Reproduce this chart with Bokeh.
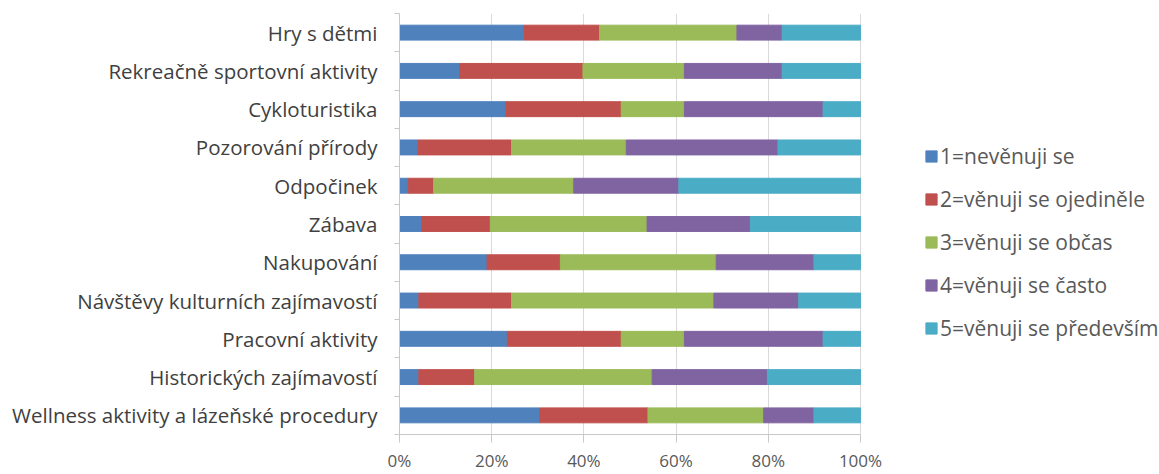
from bokeh.plotting import figure
from bokeh.models import ColumnDataSource, FixedTicker, PrintfTickFormatter, Range1d, Legend, LegendItem
from bokeh.embed import file_html
from bokeh.resources import INLINE

categories = [
    "Hry s dětmi",
    "Rekreačně sportovní aktivity",
    "Cykloturistika",
    "Pozorování přírody",
    "Odpočinek",
    "Zábava",
    "Nakupování",
    "Návštěvy kulturních zajímavostí",
    "Pracovní aktivity",
    "Historických zajímavostí",
    "Wellness aktivity a lázeňské procedury",
]
series_names = [
    "1=nevěnuji se",
    "2=věnuji se ojediněle",
    "3=věnuji se občas",
    "4=věnuji se často",
    "5=věnuji se především",
]
s1 = [27.1, 13.1, 23.1, 4.0, 1.9, 4.8, 19.0, 4.2, 23.4, 4.2, 30.4]
s2 = [16.3, 26.7, 25.0, 20.3, 5.5, 14.9, 15.9, 20.1, 24.7, 12.1, 23.5]
s3 = [29.8, 22.0, 13.7, 24.9, 30.4, 34.0, 33.8, 43.9, 13.7, 38.5, 25.1]
s4 = [9.8, 21.2, 30.1, 32.9, 22.8, 22.4, 21.2, 18.4, 30.1, 25.0, 10.9]
s5 = [17.0, 17.0, 8.1, 17.9, 39.4, 23.9, 10.1, 13.4, 8.1, 20.2, 10.1]
x_ticks = [0, 20, 40, 60, 80, 100]

colors = ["#4F81BD", "#C0504D", "#9BBB59", "#8064A2", "#4BACC6"]
FONT = "Open Sans"

n = len(categories)
ypos = [n - 1 - i for i in range(n)]
keys = ["s1", "s2", "s3", "s4", "s5"]
source = ColumnDataSource(dict(y=ypos, s1=s1, s2=s2, s3=s3, s4=s4, s5=s5))

# plot frame spans the legend area too; bars occupy the first 461 px (0..100 %)
W, H = 1159, 474
LEFT = 399
FRAME_W = W - LEFT
BAR_W = 461
p = figure(
    width=W, height=H,
    x_range=Range1d(0, 100 * FRAME_W / BAR_W), y_range=Range1d(-0.5, n - 0.5),
    output_backend="svg", toolbar_location=None,
    min_border_left=LEFT, min_border_right=0,
    min_border_top=13, min_border_bottom=38,
)
p.outline_line_color = None

renderers = p.hbar_stack(keys, y="y", height=0.39, color=colors, source=source)

# x axis
p.xaxis.bounds = (0, 100)
p.xaxis.ticker = FixedTicker(ticks=x_ticks)
p.xaxis.formatter = PrintfTickFormatter(format="%d%%")
p.xaxis.axis_line_color = "#c8c8c8"
p.xaxis.major_tick_line_color = "#c8c8c8"
p.xaxis.major_tick_out = 8
p.xaxis.major_tick_in = 0
p.xaxis.minor_tick_line_color = None
p.xaxis.major_label_standoff = 6
p.xaxis.major_label_text_font = FONT
p.xaxis.major_label_text_font_size = "17px"
p.xaxis.major_label_text_color = "#595959"

# y axis
p.yaxis.ticker = FixedTicker(ticks=ypos, minor_ticks=[k - 0.5 for k in range(n + 1)])
p.yaxis.major_label_overrides = {float(yv): c for yv, c in zip(ypos, categories)}
p.yaxis.axis_line_color = "#c8c8c8"
p.yaxis.major_tick_line_color = None
p.yaxis.major_tick_out = 0
p.yaxis.major_tick_in = 0
p.yaxis.minor_tick_line_color = "#c8c8c8"
p.yaxis.minor_tick_out = 5
p.yaxis.minor_tick_in = 0
p.yaxis.major_label_standoff = 17
p.yaxis.major_label_text_font = FONT
p.yaxis.major_label_text_font_size = "20.5px"
p.yaxis.major_label_text_color = "#404040"

# grid
p.xgrid.ticker = FixedTicker(ticks=x_ticks)
p.xgrid.grid_line_color = "#d9d9d9"
p.ygrid.grid_line_color = None

# legend
items = [LegendItem(label=name, renderers=[r]) for name, r in zip(series_names, renderers)]
lg = Legend(items=items, location=(525, 92))
lg.border_line_color = None
lg.background_fill_alpha = 0
lg.padding = 0
lg.margin = 0
lg.glyph_width = 14
lg.glyph_height = 14
lg.label_height = 14
lg.label_standoff = 2
lg.spacing = 15
lg.label_text_font = FONT
lg.label_text_font_size = "21px"
lg.label_text_color = "#595959"
p.add_layout(lg, "center")

open("out.html", "w").write(file_html(p, INLINE))
